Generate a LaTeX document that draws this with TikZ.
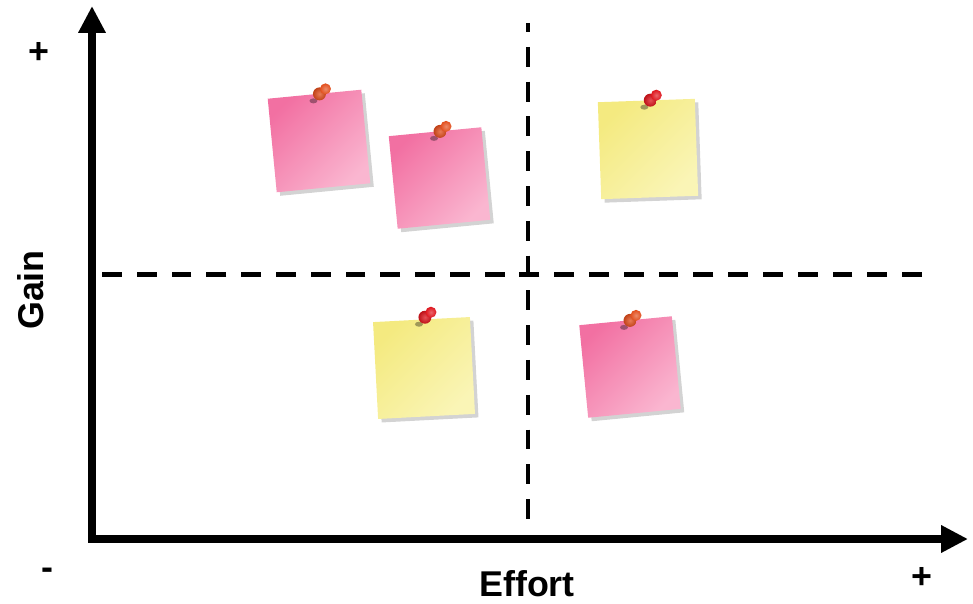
\documentclass[tikz,border=0pt]{standalone}
\usepackage{fontspec}
\setmainfont{Liberation Sans}
\usetikzlibrary{arrows.meta,calc,shadows}
\definecolor{pkA}{RGB}{242,112,162}
\definecolor{pkB}{RGB}{250,182,208}
\definecolor{ylA}{RGB}{244,234,128}
\definecolor{ylB}{RGB}{250,245,182}
\definecolor{pinO}{RGB}{226,78,28}
\definecolor{pinR}{RGB}{222,20,28}
\begin{document}
\begin{tikzpicture}[x=0.02cm, y=-0.02cm, line join=miter,
  note/.style={inner sep=0pt,
    drop shadow={shadow xshift=2pt, shadow yshift=-2pt, opacity=.35}},
  pinknote/.style={note, top color=pkA, bottom color=pkB, shading angle=45},
  yellownote/.style={note, top color=ylA, bottom color=ylB, shading angle=45},
  lbl/.style={inner sep=1pt, font=\fontsize{20.4}{24}\selectfont\bfseries}]
    \def\pushpin#1#2{% #1 = point, #2 = colour
        \fill[black,opacity=.35] ($(#1)+(-6,7)$) ellipse[x radius=4, y radius=2.5];
        \shade[inner color=#2!75!white, outer color=#2!85!black] (#1) circle[radius=6.5];
        \shade[inner color=#2!65!white, outer color=#2] ($(#1)+(6,-5)$) circle[radius=5.5];}
    \useasboundingbox (0,0) rectangle (973,604);
    % quadrant lines
    \draw[line width=2.8pt, dash pattern=on 11.3pt off 8.5pt, dash phase=6.2pt] (528,23)--(528,527);
    \draw[line width=2.8pt, dash pattern=on 11.3pt off 8.5pt] (922,274.5)--(96,274.5);
    % axes
    \draw[line width=4.8pt, {Triangle[width=14.7pt,length=15.3pt]}-{Triangle[width=14.7pt,length=15.3pt]}]
        (92,6)--(92,539)--(968,539);
    \node[lbl] (top) at (39,53) {+};
    \node[lbl] (lo) at (47,574) {-};
    \node[lbl] (right) at (922,578) {+};
    \node[lbl, anchor=base] (effort) at (527,596) {Effort};
    \node[lbl, anchor=base, rotate=90] (gain) at (43,290) {Gain};
    % sticky notes
    \node[pinknote, minimum size=1.88cm, rotate=5.5] (pk1) at (319,141) {};
    \node[pinknote, minimum size=1.86cm, rotate=5.5] (pk2) at (439.5,178) {};
    \node[yellownote, minimum size=1.94cm, rotate=2] (yl1) at (648,149) {};
    \node[yellownote, minimum size=1.94cm, rotate=3] (yl2) at (424,368) {};
    \node[pinknote, minimum size=1.86cm, rotate=5.5] (pk3) at (630,367) {};
    \pushpin{$(pk1.north)+(5,0)$}{pinO}
    \pushpin{$(pk2.north)+(5,0)$}{pinO}
    \pushpin{$(yl1.north)+(4,0)$}{pinR}
    \pushpin{$(yl2.north)+(3.5,-2)$}{pinR}
    \pushpin{$(pk3.north)+(4.5,0)$}{pinO}
\end{tikzpicture}
\end{document}
